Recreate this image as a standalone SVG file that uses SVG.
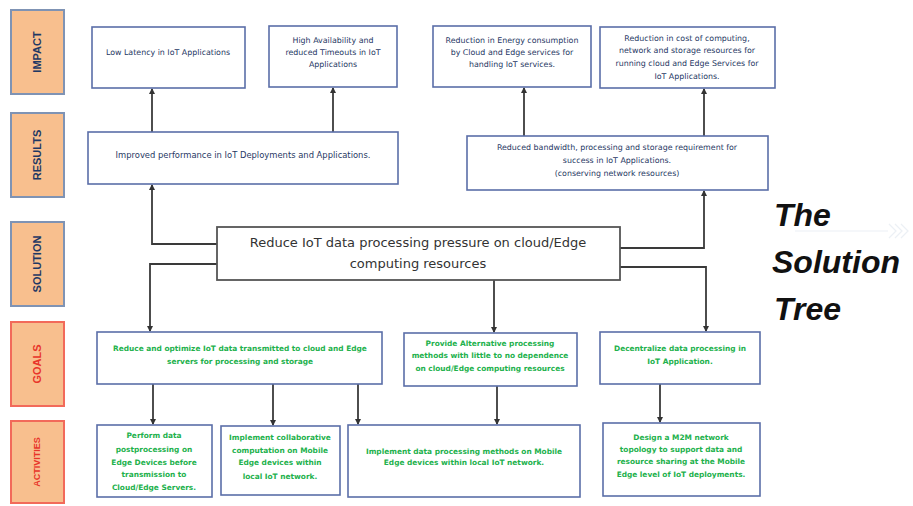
<svg xmlns="http://www.w3.org/2000/svg" width="913" height="506" viewBox="0 0 913 506">
<defs>
<marker id="ah" markerWidth="6" markerHeight="6" refX="5" refY="3" orient="auto" markerUnits="userSpaceOnUse">
<path d="M0,0 L6,3 L0,6 z" fill="#333"/>
</marker>
<style>
.lab{fill:#f8bf8e;stroke:#7f93b4;stroke-width:2}
.labr{fill:#f8bf8e;stroke:#f26a5a;stroke-width:2}
.lt{font-family:"Liberation Sans",Arial,sans-serif;font-weight:bold;font-size:11px;fill:#1f3864;text-anchor:middle}
.ltr{font-family:"Liberation Sans",Arial,sans-serif;font-weight:bold;font-size:11px;fill:#e8352a;text-anchor:middle}
.box{fill:#fff;stroke:#5b6ea8;stroke-width:1.6}
.sbox{fill:#fff;stroke:#555;stroke-width:1.8}
.t{font-family:"DejaVu Sans",Verdana,sans-serif;font-size:7.9px;fill:#1f3864;text-anchor:middle}
.g{font-family:"DejaVu Sans",Verdana,sans-serif;font-size:7.4px;font-weight:bold;fill:#22b14c;text-anchor:middle}
.st{font-family:"DejaVu Sans",Verdana,sans-serif;font-size:13px;fill:#333;text-anchor:middle}
.c{fill:none;stroke:#3a3a3a;stroke-width:1.8;marker-end:url(#ah)}
.title{font-family:"Liberation Sans",Arial,sans-serif;font-size:32px;font-weight:bold;font-style:italic;fill:#111}
</style>
</defs>
<rect width="913" height="506" fill="#fff"/>
<g id="bg-deco" opacity="0.35" fill="none" stroke="#c9d6e3" stroke-width="1.2">
<line x1="795" y1="231" x2="888" y2="231"/>
<path d="M889,224 l7,7 l-7,7 M895,224 l7,7 l-7,7 M901,224 l7,7 l-7,7"/>
</g>
<g id="label-impact"><rect class="lab" x="11" y="10" width="53" height="84"/><text class="lt" transform="translate(41,52) rotate(-90)">IMPACT</text></g>
<g id="label-results"><rect class="lab" x="11" y="113" width="53" height="84"/><text class="lt" transform="translate(41,155) rotate(-90)">RESULTS</text></g>
<g id="label-solution"><rect class="lab" x="11" y="222" width="53" height="84"/><text class="lt" transform="translate(41,264) rotate(-90)">SOLUTION</text></g>
<g id="label-goals"><rect class="labr" x="11" y="322" width="53" height="84"/><text class="ltr" transform="translate(41,364) rotate(-90)">GOALS</text></g>
<g id="label-activities"><rect class="labr" x="11" y="421" width="53" height="82"/><text class="ltr" style="font-size:9px" transform="translate(40,462) rotate(-90)">ACTIVITIES</text></g>

<g id="connectors">
<path class="c" d="M152,132 V89"/>
<path class="c" d="M333,132 V88"/>
<path class="c" d="M524,136 V88"/>
<path class="c" d="M704,136 V89"/>
<path class="c" d="M217,244 H152 V185"/>
<path class="c" d="M620,248 H704 V191"/>
<path class="c" d="M217,264 H150 V331"/>
<path class="c" d="M494,280 V332"/>
<path class="c" d="M620,267 H706 V331"/>
<path class="c" d="M153,384 V424"/>
<path class="c" d="M273,384 V425"/>
<path class="c" d="M358,384 V424"/>
<path class="c" d="M497,386 V424"/>
<path class="c" d="M660,384 V422"/>
</g>

<g id="impact-latency"><rect class="box" x="92" y="27" width="153" height="61"/>
<text class="t" x="168" y="55">Low Latency in IoT Applications</text></g>
<g id="impact-availability"><rect class="box" x="269" y="26" width="128" height="61"/>
<text class="t" x="333" y="43">High Availability  and</text><text class="t" x="333" y="55">reduced Timeouts in IoT</text><text class="t" x="333" y="67">Applications</text></g>
<g id="impact-energy"><rect class="box" x="433" y="26" width="158" height="61"/>
<text class="t" x="512" y="43">Reduction in Energy consumption</text><text class="t" x="512" y="55">by Cloud and Edge services for</text><text class="t" x="512" y="67">handling IoT services.</text></g>
<g id="impact-cost"><rect class="box" x="600" y="27" width="175" height="61"/>
<text class="t" x="687" y="41">Reduction in cost of computing,</text><text class="t" x="687" y="53">network and storage resources for</text><text class="t" x="687" y="66">running cloud and Edge Services for</text><text class="t" x="687" y="79">IoT Applications.</text></g>

<g id="result-performance"><rect class="box" x="88" y="132" width="310" height="52"/>
<text class="t" style="font-size:8.4px" x="243" y="158">Improved performance in IoT Deployments and Applications.</text></g>
<g id="result-bandwidth"><rect class="box" x="467" y="136" width="301" height="54"/>
<text class="t" x="617" y="150">Reduced bandwidth, processing and storage requirement for</text><text class="t" x="617" y="163">success in IoT Applications.</text><text class="t" x="617" y="176">(conserving network resources)</text></g>

<g id="solution"><rect class="sbox" x="217" y="227" width="403" height="53"/>
<text class="st" x="418" y="247">Reduce IoT data processing pressure on cloud/Edge</text><text class="st" x="418" y="268">computing resources</text></g>

<g id="goal-reduce"><rect class="box" x="97" y="332" width="285" height="52"/>
<text class="g" x="240" y="351">Reduce and optimize IoT data transmitted to cloud and Edge</text><text class="g" x="240" y="364">servers for processing and storage</text></g>
<g id="goal-alternative"><rect class="box" x="404" y="333" width="173" height="53"/>
<text class="g" x="490" y="346">Provide Alternative processing</text><text class="g" x="490" y="358">methods with little to no dependence</text><text class="g" x="490" y="371">on cloud/Edge computing resources</text></g>
<g id="goal-decentralize"><rect class="box" x="600" y="332" width="160" height="52"/>
<text class="g" x="680" y="351">Decentralize data processing in</text><text class="g" x="680" y="364">IoT Application.</text></g>

<g id="activity-postprocessing"><rect class="box" x="97" y="425" width="115" height="72"/>
<text class="g" x="154" y="438">Perform data</text><text class="g" x="154" y="452">postprocessing on</text><text class="g" x="154" y="465">Edge Devices before</text><text class="g" x="154" y="477">transmission to</text><text class="g" x="154" y="490">Cloud/Edge Servers.</text></g>
<g id="activity-collaborative"><rect class="box" x="221" y="426" width="119" height="69"/>
<text class="g" x="280" y="440">Implement collaborative</text><text class="g" x="280" y="453">computation on Mobile</text><text class="g" x="280" y="465">Edge devices within</text><text class="g" x="280" y="479">local IoT network.</text></g>
<g id="activity-methods"><rect class="box" x="348" y="425" width="232" height="72"/>
<text class="g" x="464" y="454">Implement data processing methods on Mobile</text><text class="g" x="464" y="465">Edge devices within local IoT network.</text></g>
<g id="activity-m2m"><rect class="box" x="603" y="423" width="157" height="73"/>
<text class="g" x="681" y="440">Design a M2M network</text><text class="g" x="681" y="452">topology to support data and</text><text class="g" x="681" y="464">resource sharing at the Mobile</text><text class="g" x="681" y="477">Edge level of IoT deployments.</text></g>

<g id="title">
<text class="title" x="774" y="226">The</text>
<text class="title" x="772" y="273">Solution</text>
<text class="title" x="774" y="320">Tree</text>
</g>
</svg>
